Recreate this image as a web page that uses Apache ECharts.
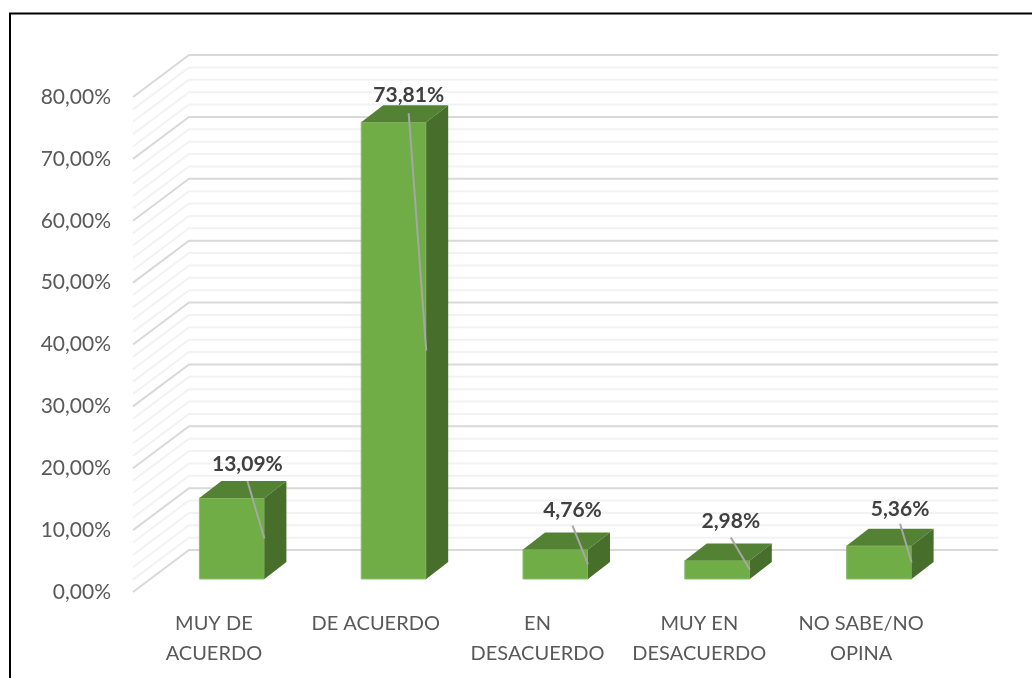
<!DOCTYPE html>
<html>
<head>
<meta charset="utf-8">
<script src="https://cdn.jsdelivr.net/npm/echarts@6/dist/echarts.min.js"></script>
<style>
  html, body { margin: 0; padding: 0; background: #fff; }
  #main { width: 1032px; height: 678px; }
</style>
</head>
<body>
<div id="main"></div>
<script>
var categories = ["MUY DE\nACUERDO", "DE ACUERDO", "EN\nDESACUERDO", "MUY EN\nDESACUERDO", "NO SABE/NO\nOPINA"];
var values = [13.09, 73.81, 4.76, 2.98, 5.36];
var yTicks = [0, 10, 20, 30, 40, 50, 60, 70, 80];
var gridValues = [0, 2, 4, 6, 8, 10, 12, 14, 16, 18, 20, 22, 24, 26, 28, 30, 32, 34, 36, 38, 40,
  42, 44, 46, 48, 50, 52, 54, 56, 58, 60, 62, 64, 66, 68, 70, 72, 74, 76, 78, 80];

// perspective offsets, px
var wall = { dx: 56, dy: -42 };
var barFront = { dx: 18, dy: -13 };
var barDepth = { dx: 22, dy: -17 };
var barWidth = 65;
// data label centre relative to the bar's centre and back top edge, and where its leader starts
var labelShift = [[15.5, -17], [15, -10], [17, -22], [13.5, -22], [21, -20]];
var leaderGap = [0, 8, -7, -6, -5];

function pct(v) {
  return v.toFixed(2).replace(".", ",") + "%";
}

function renderGridLine(params, api) {
  var v = api.value(1);
  var y = api.coord([0, v])[1];
  var left = params.coordSys.x;
  var right = left + params.coordSys.width + wall.dx;
  var major = yTicks.indexOf(v) >= 0;
  return {
    type: "polyline",
    z2: major ? 2 : 1,
    shape: { points: [[left, y], [left + wall.dx, y + wall.dy], [right, y + wall.dy]] },
    style: { fill: null, stroke: major ? "#d9d9d9" : "#f2f2f2", lineWidth: 2 }
  };
}

function renderBar(params, api) {
  var i = api.value(0);
  var top = api.coord([i, api.value(1)]);
  var base = api.coord([i, 0]);
  var x0 = top[0] + barFront.dx - barWidth / 2;
  var x1 = x0 + barWidth;
  var yTop = top[1] + barFront.dy;
  var yBase = base[1] + barFront.dy;
  var dx = barDepth.dx;
  var dy = barDepth.dy;
  var cx = (x0 + x1) / 2 + labelShift[i][0];
  var labelY = yTop + dy + labelShift[i][1];
  return {
    type: "group",
    children: [
      { type: "polygon", shape: { points: [[x0, yTop], [x1, yTop], [x1, yBase], [x0, yBase]] },
        style: { fill: "#70ad47", stroke: "#8cbd6c", lineWidth: 1 } },
      { type: "polygon", shape: { points: [[x0, yTop], [x0 + dx, yTop + dy], [x1 + dx, yTop + dy], [x1, yTop]] },
        style: { fill: "#548235" } },
      { type: "polygon", shape: { points: [[x1, yTop], [x1 + dx, yTop + dy], [x1 + dx, yBase + dy], [x1, yBase]] },
        style: { fill: "#476f2b" } },
      { type: "line", shape: { x1: cx, y1: yTop + dy + leaderGap[i], x2: x1, y2: (yTop + yBase) / 2 },
        style: { stroke: "#a6a6a6", lineWidth: 2 } },
      { type: "text", x: cx, y: labelY,
        style: { text: pct(api.value(1)), fill: "#404040", font: "bold 21px Lato", align: "center", verticalAlign: "middle" } }
    ]
  };
}

var myChart = echarts.init(document.getElementById("main"));
var option = {
  animation: false,
  backgroundColor: "#fff",
  grid: { left: 133, right: 90, top: 97, bottom: 86 },
  graphic: [
    { type: "polyline", silent: true, z: -1,
      shape: { points: [[10, 678], [10, 13.5], [1040, 13.5]] },
      style: { fill: null, stroke: "#000", lineWidth: 2 } }
  ],
  xAxis: {
    type: "category",
    data: categories,
    axisLine: { show: false },
    axisTick: { show: false },
    axisLabel: { color: "#595959", fontFamily: "Lato", fontSize: 20, lineHeight: 30, margin: 17, interval: 0 }
  },
  yAxis: {
    type: "value",
    min: 0,
    max: 80,
    interval: 10,
    splitLine: { show: false },
    axisLine: { show: false },
    axisTick: { show: false },
    axisLabel: {
      color: "#595959", fontFamily: "Lato", fontSize: 21, margin: 22,
      formatter: function (v) { return pct(v); }
    }
  },
  series: [
    {
      type: "custom",
      renderItem: renderGridLine,
      clip: false,
      silent: true,
      z: 1,
      encode: { x: 0, y: 1 },
      data: gridValues.map(function (v) { return [0, v]; })
    },
    {
      type: "custom",
      renderItem: renderBar,
      clip: false,
      silent: true,
      z: 2,
      encode: { x: 0, y: 1 },
      data: values.map(function (v, i) { return [i, v]; })
    }
  ]
};
myChart.setOption(option);
window.onresize = myChart.resize;
</script>
</body>
</html>
